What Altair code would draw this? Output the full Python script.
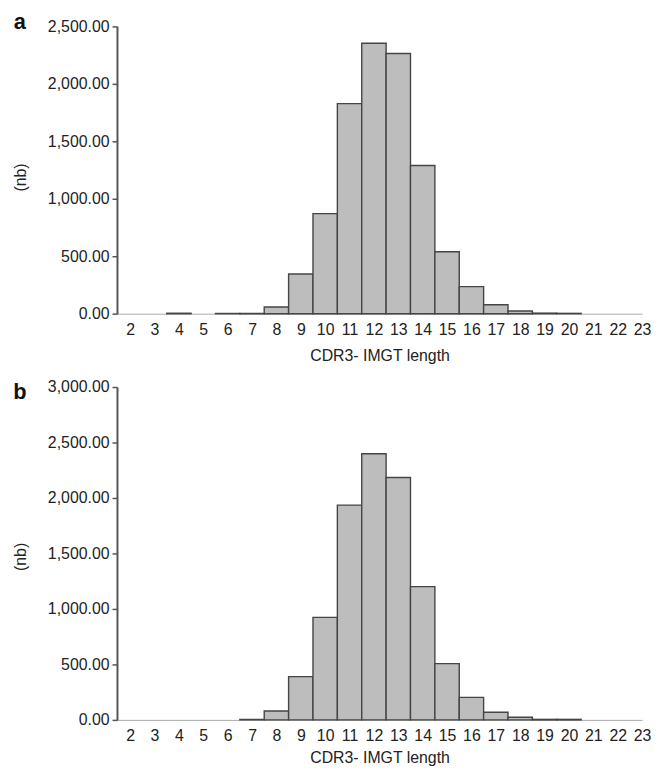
import altair as alt
import pandas as pd

lengths = list(range(2, 24))
counts_a = [0, 0, 4, 0, 2, 3, 58, 346, 871, 1828, 2353, 2264, 1289, 539, 236, 78, 23, 5, 3, 0, 0, 0]
counts_b = [0, 0, 0, 0, 0, 5, 80, 390, 924, 1936, 2398, 2184, 1201, 507, 203, 69, 24, 5, 5, 0, 0, 0]
ticks_a = [0, 500, 1000, 1500, 2000, 2500]
ticks_b = [0, 500, 1000, 1500, 2000, 2500, 3000]

FONT = "Liberation Sans"
W = 530


def panel(counts, yticks, letter, h, letter_y, title_y, xtitle_pad):
    df = pd.DataFrame({"len": lengths, "n": counts})
    df["lo"] = df["len"] - 0.5
    df["hi"] = df["len"] + 0.5
    bars = alt.Chart(df).transform_filter("datum.n > 0").mark_rect(
        fill="#bdbdbd", stroke="#454545", strokeWidth=1.4
    ).encode(
        x=alt.X("lo:Q", scale=alt.Scale(domain=[1.46, 23.0], nice=False, zero=False),
                axis=alt.Axis(values=lengths, format="d", title="CDR3- IMGT length",
                              ticks=False, grid=False, domainColor="#aaaaaa", domainWidth=1,
                              labelFontSize=16, labelFont=FONT, labelColor="#222",
                              labelPadding=8, titleFontSize=16, titleFont=FONT,
                              titleFontWeight="normal", titleColor="#222",
                              titlePadding=xtitle_pad,
                              labelFlush=False, labelOverlap=False)),
        x2="hi:Q",
        y=alt.Y("n:Q", scale=alt.Scale(domain=[0, max(yticks)], nice=False),
                axis=alt.Axis(values=yticks, format=",.2f", title="(nb)", grid=False,
                              domainColor="#555", domainWidth=2, tickColor="#555",
                              tickWidth=1.5, tickSize=5, labelFontSize=16, labelFont=FONT,
                              labelColor="#222", labelPadding=3, titleFontSize=16,
                              titleFont=FONT, titleFontWeight="normal", titleColor="#222",
                              titleX=-97, titleY=title_y, titleAlign="center",
                              titleBaseline="middle", titleAngle=-90)),
        y2=alt.datum(0),
    )
    lab = alt.Chart(pd.DataFrame({"t": [letter]})).mark_text(
        font=FONT, fontSize=22, fontWeight="bold", align="center",
        baseline="top", color="#111"
    ).encode(x=alt.value(-98), y=alt.value(letter_y), text="t:N")
    return alt.layer(bars, lab).properties(width=W, height=h)


top = panel(counts_a, ticks_a, "a", 290, -14, 152, 10)
bot = panel(counts_b, ticks_b, "b", 336, -5, 171, 6)

chart = alt.vconcat(top, bot, spacing=16).properties(
    padding={"left": 5, "top": 0, "right": 0, "bottom": 0}
).configure(background="white", view=alt.ViewConfig(stroke=None))

chart.save("out.html", embed_options={"renderer": "svg", "actions": False})
